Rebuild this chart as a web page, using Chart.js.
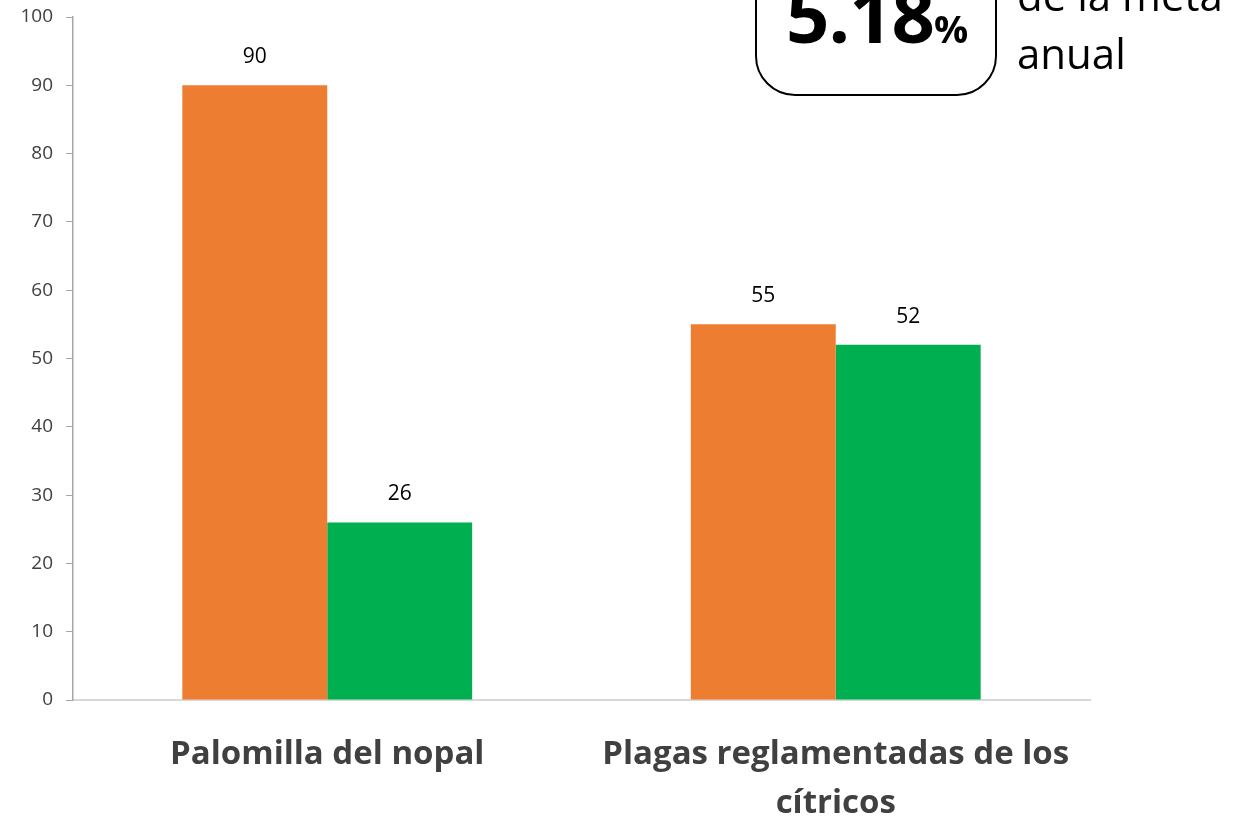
<!DOCTYPE html>
<html lang="es">
<head>
  <meta charset="UTF-8">
  <title>Avance de metas</title>
  <script src="https://cdn.jsdelivr.net/npm/chart.js"></script>
  <style>
      html, body { margin: 0; padding: 0; background: #fff; }
      #wrap { position: relative; width: 1246px; height: 821px; overflow: hidden; font-family: "Open Sans", "Noto Sans", sans-serif; }
      #box { position: absolute; left: 755px; top: -60px; width: 242px; height: 156px; border: 2px solid #000; border-radius: 40px; box-sizing: border-box; }
      #pct { position: absolute; left: 786px; top: -38px; font-weight: bold; font-size: 76px; color: #000; white-space: nowrap; letter-spacing: -1px; }
      #pct span { font-size: 38px; }
      #meta { position: absolute; left: 1017px; top: -34px; font-size: 42px; line-height: 58px; color: #000; }
  </style>
</head>
<body>
  <div id="wrap">
    <canvas id="myChart" width="1246" height="821"></canvas>
    <div id="box"></div>
    <div id="pct">5.18<span>%</span></div>
    <div id="meta">de la meta<br>anual</div>
  </div>

  <script>
    // categories and series
    const categories = [["Palomilla del nopal"], ["Plagas reglamentadas de los", "cítricos"]];
    const serieNaranja = [90, 55];
    const serieVerde = [26, 52];
    const yTicks = { min: 0, max: 100, step: 10 };

    // labels on top of each bar
    const valueLabels = {
      id: 'valueLabels',
      afterDatasetsDraw(chart) {
        const ctx = chart.ctx;
        ctx.save();
        ctx.font = '21px "Open Sans", "Noto Sans", sans-serif';
        ctx.fillStyle = '#000';
        ctx.textAlign = 'center';
        ctx.textBaseline = 'middle';
        chart.data.datasets.forEach((ds, i) => {
          chart.getDatasetMeta(i).data.forEach((bar, j) => {
            ctx.fillText(ds.data[j], bar.x, bar.y - 28);
          });
        });
        ctx.restore();
      }
    };

    const ctx = document.getElementById('myChart').getContext('2d');
    new Chart(ctx, {
      type: 'bar',
      data: {
        labels: categories,
        datasets: [
          { label: 'Meta', data: serieNaranja, backgroundColor: '#ED7D31' },
          { label: 'Avance', data: serieVerde, backgroundColor: '#00B050' }
        ]
      },
      options: {
        responsive: false,
        animation: false,
        devicePixelRatio: 1,
        layout: { padding: { top: 0, right: 156, left: 0, bottom: 0 } },
        plugins: { legend: { display: false }, tooltip: { enabled: false } },
        datasets: { bar: { barPercentage: 1, categoryPercentage: 0.57 } },
        scales: {
          x: {
            grid: { display: false },
            border: { color: '#D9D9D9', width: 2 },
            ticks: {
              color: '#404040',
              padding: 22,
              maxRotation: 0,
              font: { family: '"Open Sans", "Noto Sans", sans-serif', size: 33, weight: 'bold', lineHeight: 1.48 }
            },
            afterFit(scale) { scale.height = 121; scale.paddingTop = 0; }
          },
          y: {
            min: yTicks.min,
            max: yTicks.max,
            grid: { drawOnChartArea: false, color: '#A6A6A6', tickLength: 7 },
            border: { color: '#A6A6A6', width: 1.5 },
            ticks: {
              stepSize: yTicks.step,
              color: '#404040',
              padding: 13,
              font: { family: '"Open Sans", "Noto Sans", sans-serif', size: 19 }
            },
            afterFit(scale) { scale.width = 73; scale.paddingTop = 17; }
          }
        }
      },
      plugins: [valueLabels]
    });
  </script>
</body>
</html>
